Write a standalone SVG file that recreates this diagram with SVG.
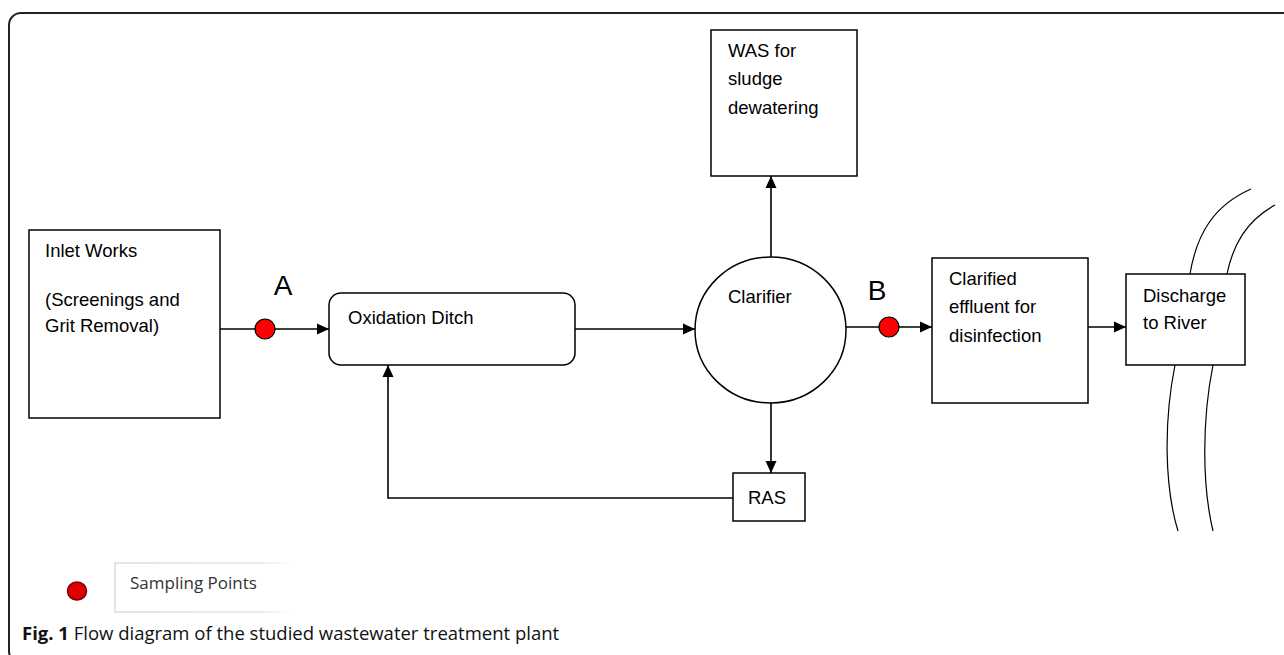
<svg xmlns="http://www.w3.org/2000/svg" width="1284" height="655" viewBox="0 0 1284 655">
<style>
.box{fill:#fff;stroke:#000;stroke-width:1.5}
.t{font-family:"Liberation Sans",Arial,sans-serif;font-size:18.5px;fill:#000}
.big{font-family:"Liberation Sans",Arial,sans-serif;font-size:28px;fill:#000}
.c{fill:none;stroke:#000;stroke-width:1.6}
.dot{fill:#ff0000;stroke:#000;stroke-width:1.2}
.river{fill:none;stroke:#000;stroke-width:1.2}
.cap{font-family:"Open Sans","Liberation Sans",sans-serif;font-size:18.5px;fill:#111}
</style>
<defs>
<marker id="ah" markerWidth="14" markerHeight="14" refX="12" refY="6.5" orient="auto" markerUnits="userSpaceOnUse">
<path d="M0,1 L12,6.5 L0,12 Z" fill="#000"/>
</marker>
<linearGradient id="fade" x1="0" x2="1" y1="0" y2="0">
<stop offset="0" stop-color="#dcdcdc"/>
<stop offset="0.85" stop-color="#e6e6e6"/>
<stop offset="1" stop-color="#ffffff"/>
</linearGradient>
</defs>
<rect width="1284" height="655" fill="#fff"/>
<rect id="frame" x="9" y="13" width="1300" height="650" rx="12" fill="none" stroke="#222" stroke-width="2"/>

<g id="river">
<path class="river" d="M1251,189 C1215,205 1197,232 1190,274"/>
<path class="river" d="M1275,205 C1246,221 1233,245 1227,274"/>
<path class="river" d="M1175,365 C1164,420 1164,485 1178,531"/>
<path class="river" d="M1213,365 C1202,420 1202,485 1213,531"/>
</g>

<g id="connectors">
<path class="c" d="M220,329 L329,329" marker-end="url(#ah)"/>
<path class="c" d="M575,329 L695,329" marker-end="url(#ah)"/>
<path class="c" d="M771,257 L771,176" marker-end="url(#ah)"/>
<path class="c" d="M771,403 L771,473" marker-end="url(#ah)"/>
<path class="c" d="M733,498 L388,498 L388,365" marker-end="url(#ah)"/>
<path class="c" d="M846,327 L932,327" marker-end="url(#ah)"/>
<path class="c" d="M1088,327 L1126,327" marker-end="url(#ah)"/>
</g>

<g id="inlet">
<rect class="box" x="29" y="230" width="191" height="188"/>
<text class="t" x="45" y="257">Inlet Works</text>
<text class="t" x="45" y="306">(Screenings and</text>
<text class="t" x="45" y="332">Grit Removal)</text>
</g>

<g id="pointA">
<circle class="dot" cx="265" cy="329" r="10"/>
<text class="big" x="283" y="295" text-anchor="middle">A</text>
</g>

<g id="oxidation">
<rect class="box" x="329" y="293" width="246" height="72" rx="12"/>
<text class="t" x="348" y="324">Oxidation Ditch</text>
</g>

<g id="clarifier">
<ellipse class="box" cx="770.5" cy="330" rx="75.5" ry="73"/>
<text class="t" x="728" y="303">Clarifier</text>
</g>

<g id="was">
<rect class="box" x="711" y="30" width="146" height="146"/>
<text class="t" x="728" y="57">WAS for</text>
<text class="t" x="728" y="85">sludge</text>
<text class="t" x="728" y="114">dewatering</text>
</g>

<g id="ras">
<rect class="box" x="733" y="473" width="72" height="48"/>
<text class="t" x="748" y="504">RAS</text>
</g>

<g id="pointB">
<circle class="dot" cx="889" cy="327" r="10"/>
<text class="big" x="877" y="300" text-anchor="middle">B</text>
</g>

<g id="clarified">
<rect class="box" x="932" y="258" width="156" height="145"/>
<text class="t" x="949" y="285">Clarified</text>
<text class="t" x="949" y="313">effluent for</text>
<text class="t" x="949" y="342">disinfection</text>
</g>

<g id="discharge">
<rect class="box" x="1126" y="274" width="119" height="91"/>
<text class="t" x="1143" y="302">Discharge</text>
<text class="t" x="1143" y="329">to River</text>
</g>

<g id="legend">
<ellipse cx="77" cy="591" rx="9.5" ry="9" fill="#e00000" stroke="#700" stroke-width="1.5"/>
<path d="M290,563 L115,563 L115,612 L290,612" fill="none" stroke="url(#fade)" stroke-width="1.5"/>
<text x="130" y="589" style="font-family:'Open Sans','Liberation Sans',sans-serif;font-size:17px;fill:#333">Sampling Points</text>
</g>

<text class="cap" x="22" y="640"><tspan font-weight="bold">Fig. 1</tspan> Flow diagram of the studied wastewater treatment plant</text>
</svg>
